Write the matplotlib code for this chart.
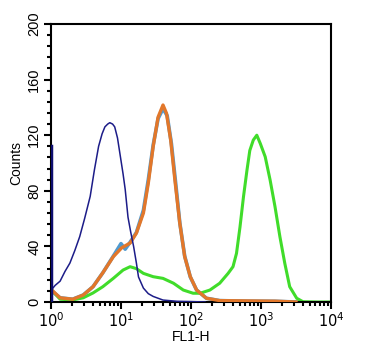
import matplotlib
matplotlib.use("Agg")
import matplotlib.pyplot as plt
from matplotlib.ticker import MultipleLocator, LogLocator, NullFormatter, FixedLocator

plt.rcParams['font.family'] = ['Liberation Sans', 'DejaVu Sans']

# ---- data (log10 channel position, counts) ----
navy_log = [0.0, 0.0, 0.004, 0.008, 0.01, 0.06, 0.13, 0.2, 0.27, 0.34, 0.41, 0.48, 0.56, 0.62,
            0.68, 0.73, 0.77, 0.81, 0.84, 0.88, 0.91, 0.95, 0.99, 1.03, 1.06, 1.10, 1.14,
            1.18, 1.22, 1.25, 1.32, 1.39, 1.46, 1.60, 1.8, 2.0, 2.2]
navy_cnt = [0, 112, 60, 20, 9, 12, 15, 22, 28, 37, 47, 60, 76, 95,
            112, 121, 126, 128, 129, 128, 126, 118, 105, 92, 81, 61, 50,
            40, 28, 18, 10, 6, 4, 1.4, 0.5, 0.3, 0]

lblue_log = [0.01, 0.13, 0.31, 0.46, 0.6, 0.74, 0.89, 1.0, 1.06, 1.13, 1.22, 1.32, 1.39,
             1.46, 1.53, 1.6, 1.66, 1.72, 1.78, 1.84, 1.91, 1.99, 2.08, 2.22, 2.41, 2.8, 3.2, 3.5]
lblue_cnt = [8, 3, 2, 5, 11, 21, 33, 42, 38, 43, 50, 66, 88,
             113, 132, 139, 134, 114, 86, 57, 33, 18, 8.6, 2.7, 1, 0.6, 0.5, 0]

orange_log = [0.01, 0.13, 0.31, 0.46, 0.6, 0.74, 0.89, 1.01, 1.13, 1.22, 1.32, 1.39,
              1.46, 1.53, 1.6, 1.65, 1.71, 1.77, 1.84, 1.91, 1.99, 2.08, 2.22, 2.41, 2.8, 3.2, 3.5]
orange_cnt = [8.6, 3, 2, 5, 11, 21, 32.6, 39, 42.4, 49.6, 64, 85.6,
              112, 133, 141.7, 135.7, 116.5, 87.8, 56.6, 32.6, 18.2, 8.6, 2.7, 1, 0.8, 0.6, 0]

green_log = [0.0, 0.01, 0.13, 0.31, 0.46, 0.6, 0.74, 0.89, 1.03, 1.13, 1.22, 1.32, 1.46, 1.6,
             1.75, 1.89, 2.03, 2.13, 2.27, 2.41, 2.53, 2.60, 2.65, 2.70, 2.75, 2.80, 2.84,
             2.89, 2.94, 2.99, 3.06, 3.13, 3.20, 3.27, 3.34, 3.41, 3.51, 3.60, 3.8, 4.0]
green_cnt = [0, 8.6, 2, 1.5, 3, 6.5, 11, 17, 23, 25.4, 24, 20.6, 18.2, 17,
             13.5, 8.6, 6.3, 6.3, 8.6, 13.5, 20.6, 25.4, 35, 54, 75.8, 95, 109,
             116.5, 120, 114, 104.5, 87.8, 68.6, 47, 27.8, 11, 2.7, 0.2, 0, 0]

x_ticks = [1, 10, 100, 1000, 10000]
x_labels = ['$10^0$', '$10^1$', '$10^2$', '$10^3$', '$10^4$']
y_ticks = [0, 40, 80, 120, 160, 200]

fig = plt.figure(figsize=(3.85, 3.5), dpi=100)
ax = fig.add_axes([51/385, 48/350, 280/385, 278/350])

ax.plot([10**v for v in lblue_log], lblue_cnt, color='#4f9ad0', lw=2.6, zorder=2)
ax.plot([10**v for v in orange_log], orange_cnt, color='#e2772a', lw=2.4, zorder=3)
ax.plot([10**v for v in green_log], green_cnt, color='#40dc2a', lw=2.2, zorder=2)
ax.plot([10**v for v in navy_log], navy_cnt, color='#1c1c88', lw=1.1, zorder=4)
ax.plot([1.003, 1.003], [0, 112], color='#0e0e70', lw=2.5, zorder=5)

ax.set_xscale('log')
ax.set_xlim(1, 10000)
ax.set_ylim(0, 200)
ax.xaxis.set_major_locator(FixedLocator(x_ticks))
ax.set_xticks(x_ticks)
ax.set_xticklabels(x_labels)
ax.xaxis.set_minor_locator(LogLocator(base=10, subs=range(2, 10)))
ax.xaxis.set_minor_formatter(NullFormatter())
ax.set_yticks(y_ticks)
ax.set_yticklabels([str(v) for v in y_ticks], rotation=90, va='center')
ax.yaxis.set_minor_locator(MultipleLocator(8))

ax.tick_params(which='major', length=5, width=1.5, labelsize=10.5, pad=2)
ax.tick_params(which='minor', length=3, width=1.5)
for s in ax.spines.values():
    s.set_linewidth(1.5)

ax.set_xlabel('FL1-H', fontsize=10, labelpad=0)
ax.set_ylabel('Counts', fontsize=10, labelpad=3)

fig.savefig('out.png', dpi=100)
